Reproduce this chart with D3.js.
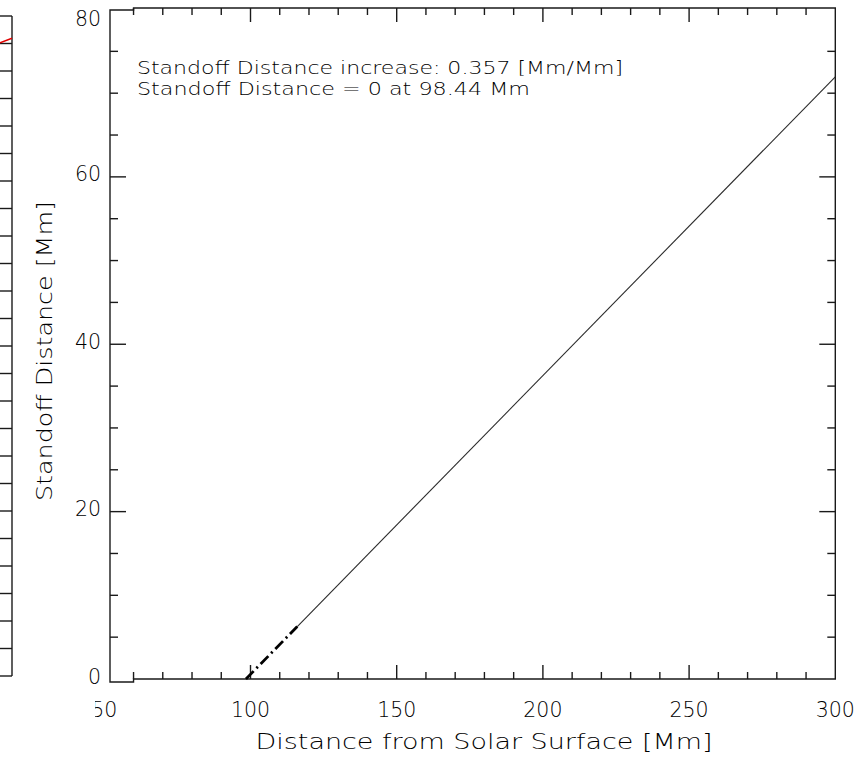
<!DOCTYPE html>
<html>
<head>
<meta charset="utf-8">
<script src="https://cdn.jsdelivr.net/npm/d3@7/dist/d3.min.js"></script>
<style>
  html, body { margin: 0; padding: 0; background: #fff; }
  svg { display: block; }
  text { font-family: "DejaVu Sans", sans-serif; font-weight: 300; fill: #000; }
</style>
</head>
<body>
<svg id="chart" width="856" height="757"></svg>
<script>
// Axis settings
const xMajorTicks = [50, 100, 150, 200, 250, 300];
const xMinorTicks = [60, 70, 80, 90, 110, 120, 130, 140, 160, 170, 180, 190, 210, 220, 230, 240, 260, 270, 280, 290];
const yMajorTicks = [0, 20, 40, 60, 80];
const yMinorTicks = [5, 10, 15, 25, 30, 35, 45, 50, 55, 65, 70, 75];

// Linear fit of standoff distance vs. height
const fitSlope = 0.357;
const fitZero = 98.44;
// fitted range (solid) and back-extrapolation to zero standoff (dash-dot)
const fitLineX = [116, 300];
const fitLineY = [6.27, 71.96];
const extrapX = [98.44, 116];
const extrapY = [0, 6.27];

// neighbouring panel (only its right edge shows)
const leftTicks = d3.range(0, 25);
const leftRedX = [99, 100];
const leftRedY = [23.03, 23.19];

const annotation = [
  "Standoff Distance increase: " + fitSlope.toFixed(3) + " [Mm/Mm]",
  "Standoff Distance = 0 at " + fitZero.toFixed(2) + " Mm"
];
const xTitle = "Distance from Solar Surface [Mm]";
const yTitle = "Standoff Distance [Mm]";

const svg = d3.select("#chart");

const x = d3.scaleLinear().domain([50, 300]).range([104.3, 835.3]);
const y = d3.scaleLinear().domain([0, 80]).range([679, 9.5]);

const ink = "#1a1a1a";
const axisW = 1.4;

// ---- neighbouring panel edge ----
const lx = d3.scaleLinear().domain([0, 100]).range([-1188, 12]);
const ly = d3.scaleLinear().domain([0, 24]).range([676, 16]);
const leftG = svg.append("g");
leftG.append("line").attr("x1", lx(100)).attr("x2", lx(100)).attr("y1", ly(24)).attr("y2", ly(0))
  .attr("stroke", ink).attr("stroke-width", axisW);
leftG.selectAll("line.lt").data(leftTicks).join("line").attr("class", "lt")
  .attr("x1", -2).attr("x2", lx(100)).attr("y1", d => ly(d)).attr("y2", d => ly(d))
  .attr("stroke", ink).attr("stroke-width", axisW);
leftG.append("path")
  .datum(leftRedX.map((v, i) => [v, leftRedY[i]]))
  .attr("d", d3.line().x(d => lx(d[0])).y(d => ly(d[1])))
  .attr("fill", "none").attr("stroke", "#e00000").attr("stroke-width", 1.5);

// ---- main frame ----
const xL = 110;             // left axis position
const xA = x(60), xR = x(300);
const yTopMain = y(80) - 1.5, yTopOuter = y(80) + 0.5;
const yBotMain = y(0), yBotOuter = y(0) + 3;
const frame = svg.append("g").attr("stroke", ink).attr("stroke-width", axisW).attr("fill", "none");
frame.append("path").attr("d",
  `M${xL},${yTopOuter}L${xA},${yTopOuter}L${xA},${yTopMain}L${xR},${yTopMain}L${xR},${yBotMain}` +
  `L${xA},${yBotMain}L${xA},${yBotOuter}L${xL},${yBotOuter}Z`);

// x ticks (bottom and top)
const xTickG = svg.append("g").attr("stroke", ink).attr("stroke-width", axisW);
const xMajVisible = xMajorTicks.filter(v => x(v) > xL && v < 300);
xTickG.selectAll("line.xb").data(xMinorTicks.map(v => [v, 7]).concat(xMajVisible.map(v => [v, 14])))
  .join("line").attr("class", "xb")
  .attr("x1", d => x(d[0])).attr("x2", d => x(d[0]))
  .attr("y1", yBotMain).attr("y2", d => yBotMain - d[1]);
xTickG.selectAll("line.xt").data(xMinorTicks.map(v => [v, 7]).concat(xMajVisible.map(v => [v, 14])))
  .join("line").attr("class", "xt")
  .attr("x1", d => x(d[0])).attr("x2", d => x(d[0]))
  .attr("y1", yTopMain).attr("y2", d => yTopMain + d[1]);

// y ticks (left and right)
const yTickG = svg.append("g").attr("stroke", ink).attr("stroke-width", axisW);
const yTickData = yMinorTicks.map(v => [v, 8]).concat(yMajorTicks.filter(v => v > 0 && v < 80).map(v => [v, 16]));
yTickG.selectAll("line.yl").data(yTickData).join("line").attr("class", "yl")
  .attr("x1", xL).attr("x2", d => xL + d[1]).attr("y1", d => y(d[0])).attr("y2", d => y(d[0]));
yTickG.selectAll("line.yr").data(yTickData).join("line").attr("class", "yr")
  .attr("x1", xR).attr("x2", d => xR - d[1]).attr("y1", d => y(d[0])).attr("y2", d => y(d[0]));

// tick labels
svg.append("clipPath").attr("id", "xlabClip")
  .append("rect").attr("x", 95).attr("y", 0).attr("width", 856).attr("height", 757);
svg.append("g").attr("clip-path", "url(#xlabClip)")
  .selectAll("text").data(xMajorTicks).join("text")
  .attr("x", d => x(d)).attr("y", 717)
  .attr("text-anchor", "middle").attr("font-size", 20.5)
  .text(d => d);
svg.append("g").selectAll("text").data(yMajorTicks).join("text")
  .attr("x", 101).attr("y", d => Math.max(y(d), 21) - 3 + 7.5)
  .attr("text-anchor", "end").attr("font-size", 20.5)
  .text(d => d);

// axis titles
svg.append("text").attr("x", 484).attr("y", 749).attr("text-anchor", "middle")
  .attr("font-size", 20.5).attr("textLength", 457).attr("lengthAdjust", "spacingAndGlyphs")
  .text(xTitle);
svg.append("text").attr("transform", "translate(52,351) rotate(-90)").attr("text-anchor", "middle")
  .attr("font-size", 20.5).attr("textLength", 300).attr("lengthAdjust", "spacingAndGlyphs")
  .text(yTitle);

// annotation
const annWidths = [486, 393];
svg.append("g").selectAll("text").data(annotation).join("text")
  .attr("x", 137).attr("y", (d, i) => 74 + i * 21)
  .attr("font-size", 18)
  .attr("textLength", (d, i) => annWidths[i]).attr("lengthAdjust", "spacingAndGlyphs")
  .text(d => d);

// fit line and extrapolation
const line = d3.line().x(d => x(d[0])).y(d => y(d[1]));
svg.append("path")
  .datum(fitLineX.map((v, i) => [v, fitLineY[i]]))
  .attr("d", line).attr("fill", "none").attr("stroke", "#2a2a2a").attr("stroke-width", 1.1);
svg.append("path")
  .datum(extrapX.map((v, i) => [v, extrapY[i]]))
  .attr("d", line).attr("fill", "none").attr("stroke", "#000").attr("stroke-width", 2.8)
  .attr("stroke-dasharray", "11,4,2,4");
</script>
</body>
</html>
